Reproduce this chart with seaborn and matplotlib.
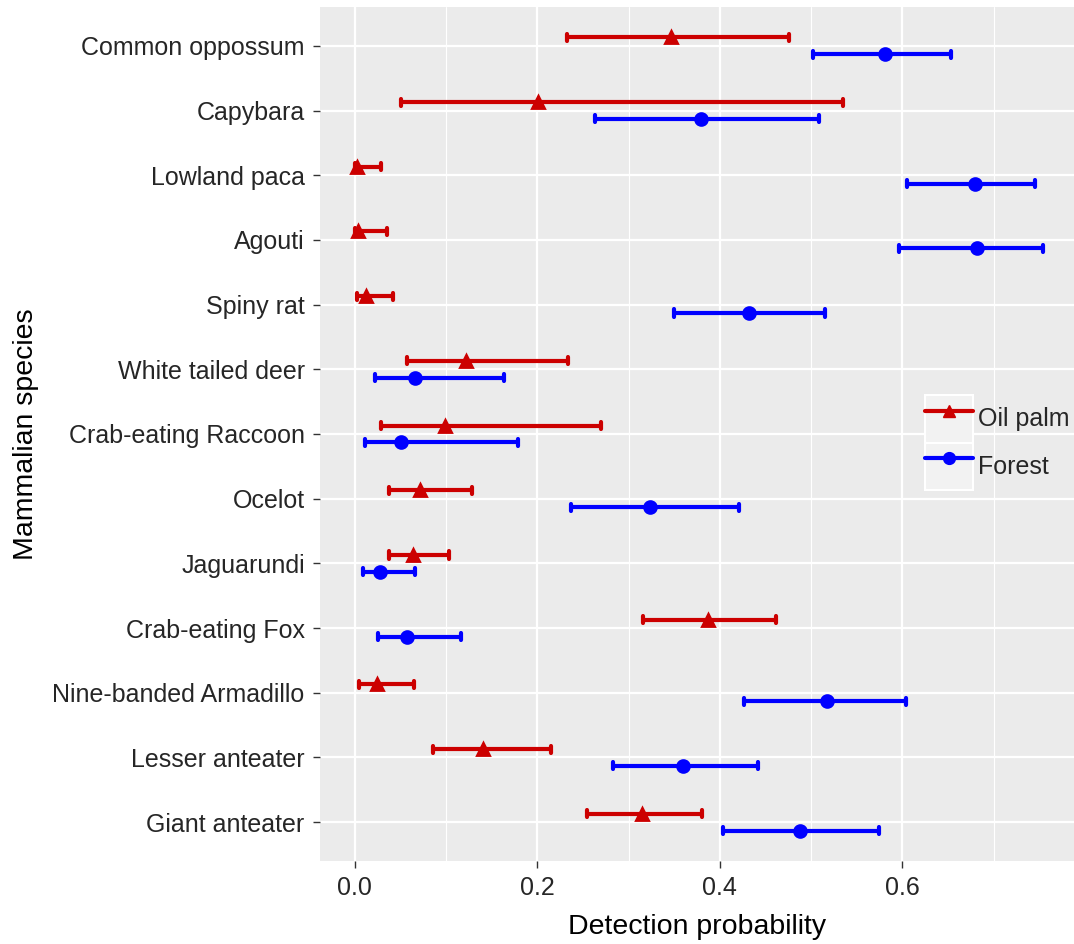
import pandas as pd
import matplotlib.pyplot as plt
import matplotlib.patches as mpatches
from matplotlib.lines import Line2D
from matplotlib.ticker import MultipleLocator
import seaborn as sns

# Species, top to bottom
species = ["Common oppossum", "Capybara", "Lowland paca", "Agouti", "Spiny rat",
           "White tailed deer", "Crab-eating Raccoon", "Ocelot", "Jaguarundi",
           "Crab-eating Fox", "Nine-banded Armadillo", "Lesser anteater", "Giant anteater"]

# Oil palm: lower, estimate, upper
palm_low = [0.233, 0.051, 0.000, 0.000, 0.003, 0.057, 0.029, 0.038, 0.038, 0.316, 0.005, 0.086, 0.255]
palm_est = [0.346, 0.201, 0.003, 0.004, 0.012, 0.122, 0.099, 0.072, 0.064, 0.387, 0.024, 0.141, 0.315]
palm_up = [0.476, 0.535, 0.029, 0.035, 0.042, 0.234, 0.270, 0.129, 0.103, 0.462, 0.065, 0.215, 0.381]

# Forest: lower, estimate, upper
forest_low = [0.502, 0.263, 0.605, 0.596, 0.350, 0.022, 0.011, 0.237, 0.009, 0.025, 0.426, 0.283, 0.404]
forest_est = [0.581, 0.379, 0.679, 0.682, 0.432, 0.066, 0.051, 0.324, 0.028, 0.057, 0.517, 0.360, 0.488]
forest_up = [0.653, 0.509, 0.745, 0.754, 0.515, 0.164, 0.179, 0.421, 0.066, 0.116, 0.604, 0.442, 0.574]

habitats = ["Oil palm", "Forest"]
colors = {"Oil palm": "#CC0000", "Forest": "#0000FF"}
xticks = [0.0, 0.2, 0.4, 0.6]
xticklabels = ["0.0", "0.2", "0.4", "0.6"]

# long table: three rows (low, est, up) per species/habitat,
# median -> estimate, full percentile interval -> CI
rows = []
for i, sp in enumerate(species):
    for hab, lo, est, up in [("Oil palm", palm_low, palm_est, palm_up),
                             ("Forest", forest_low, forest_est, forest_up)]:
        for v in (lo[i], est[i], up[i]):
            rows.append({"species": sp, "habitat": hab, "prob": v})
df = pd.DataFrame(rows)

sns.set_theme(style="darkgrid", rc={"axes.facecolor": "#EBEBEB", "grid.color": "white"})
plt.rcParams["font.family"] = ["Liberation Sans", "DejaVu Sans"]

fig = plt.figure(figsize=(10.74, 9.44), dpi=100)
ax = fig.add_axes([320 / 1074, 1 - 861 / 944, 754 / 1074, 854 / 944])

sns.pointplot(data=df, x="prob", y="species", hue="habitat", order=species,
              hue_order=habitats, palette=colors, estimator="median",
              errorbar=("pi", 100), dodge=0.26, linestyle="none",
              markers=["^", "o"], markersize=8.5, capsize=0.11,
              err_kws={"linewidth": 3}, legend=False, ax=ax)

ax.set_xlim(-0.038, 0.788)
ax.set_ylim(len(species) - 0.4, -0.6)
ax.set_xticks(xticks)
ax.set_xticklabels(xticklabels)
ax.xaxis.set_minor_locator(MultipleLocator(0.1))
ax.grid(which="major", color="white", linewidth=1.6)
ax.grid(which="minor", axis="x", color="white", linewidth=0.8)
ax.set_axisbelow(True)
for s in ax.spines.values():
    s.set_visible(False)

ax.tick_params(which="major", left=True, bottom=True, length=5, width=1,
               color="#333333", labelsize=18, labelcolor="#262626", pad=6)
ax.tick_params(which="minor", length=0)

ax.set_xlabel("Detection probability", fontsize=20.5, color="black", labelpad=10)
ax.set_ylabel("Mammalian species", fontsize=20.5, color="black", labelpad=10)

# legend with grey key boxes
handles = []
for hab, mk in zip(habitats, ["^", "o"]):
    box = mpatches.Rectangle((0, 0), 1, 1, facecolor="#F2F2F2", edgecolor="white", linewidth=1.5)
    ln = Line2D([], [], color=colors[hab], linewidth=3, marker=mk, markersize=8.5)
    handles.append((box, ln))
ax.legend(handles, habitats, loc="upper left", bbox_to_anchor=(925 / 1074, 1 - 395 / 944),
          bbox_transform=fig.transFigure, frameon=False, fontsize=18, borderpad=0,
          borderaxespad=0, handlelength=1.9, handleheight=2.55, labelspacing=0,
          handletextpad=0.2, labelcolor="#262626")

plt.savefig("out.png", dpi=100)
plt.close()
